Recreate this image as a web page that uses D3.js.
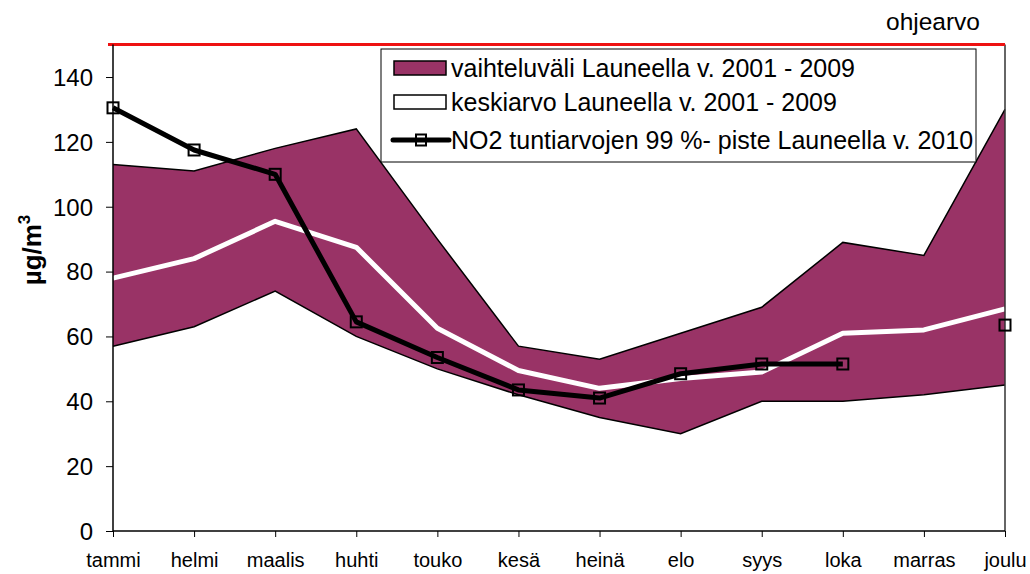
<!DOCTYPE html>
<html><head><meta charset="utf-8">
<script src="https://cdn.jsdelivr.net/npm/d3@7/dist/d3.min.js"></script>
<style>body{margin:0;background:#fff}svg{display:block;font-family:"Liberation Sans",Arial,sans-serif}</style>
</head><body><svg id="c" width="1030" height="574"></svg>
<script>
const months = ["tammi","helmi","maalis","huhti","touko","kesä","heinä","elo","syys","loka","marras","joulu"];
const rangeMax = [113,111,118,124,90,57,53,61,69,89,85,130];
const rangeMin = [57,63,74,60,50,42,35,30,40,40,42,45];
const meanVals = [78,84,95.5,87.5,62.5,49.5,44,47,49,61,62,68.5];
const no2010 = [130.5,117.5,110,64.5,53.5,43.5,41,48.5,51.5,51.5,null,63.5];
const yTicks = [0,20,40,60,80,100,120,140];
const guideValue = 150;
const legendLabels = ["vaihteluväli Launeella v. 2001 - 2009","keskiarvo Launeella v. 2001 - 2009","NO2 tuntiarvojen 99 %- piste Launeella v. 2010"];

const svg = d3.select("#c");
const L=113, R=1005, T=44.6, B=531;
const x = d3.scalePoint().domain(months).range([L,R]);
const y = d3.scaleLinear().domain([0,150]).range([B,T]);
const purple = "#993366";

// band
const area = d3.area().x((d,i)=>x(months[i])).y0((d,i)=>y(rangeMin[i])).y1((d,i)=>y(rangeMax[i]));
svg.append("path").datum(months).attr("d",area).attr("fill",purple);
const lineF = d3.line().x(d=>x(d.m)).y(d=>y(d.v)).defined(d=>d.v!=null);
const seq = arr => arr.map((v,i)=>({m:months[i],v}));
svg.append("path").attr("d",lineF(seq(rangeMax))).attr("fill","none").attr("stroke","#000").attr("stroke-width",1.5);
svg.append("path").attr("d",lineF(seq(rangeMin))).attr("fill","none").attr("stroke","#000").attr("stroke-width",1.5);
svg.append("path").attr("d",lineF(seq(meanVals))).attr("fill","none").attr("stroke","#fff").attr("stroke-width",5).attr("stroke-linejoin","round");

// right border
svg.append("line").attr("x1",R).attr("x2",R).attr("y1",T).attr("y2",B).attr("stroke","#333").attr("stroke-width",1.5);

// guide line
svg.append("line").attr("x1",L-5).attr("x2",R).attr("y1",y(guideValue)).attr("y2",y(guideValue)).attr("stroke","#ee1111").attr("stroke-width",3);
svg.append("text").attr("x",980).attr("y",30).attr("text-anchor","end").attr("font-size",24.5).text("ohjearvo");

// NO2 line
svg.append("path").attr("d",lineF(seq(no2010))).attr("fill","none").attr("stroke","#000").attr("stroke-width",5).attr("stroke-linejoin","round");
const ms=11;
svg.selectAll("rect.mk").data(seq(no2010).filter(d=>d.v!=null)).enter().append("rect")
  .attr("x",d=>x(d.m)-ms/2).attr("y",d=>y(d.v)-ms/2).attr("width",ms).attr("height",ms)
  .attr("fill","none").attr("stroke","#000").attr("stroke-width",2);

// axes
const yAxis = d3.axisLeft(y).tickValues(yTicks).tickSize(7).tickPadding(13);
const gy = svg.append("g").attr("transform",`translate(${L},0)`).call(yAxis);
gy.select(".domain").attr("stroke","#000").attr("stroke-width",1.5).attr("d",`M0,${T}V${B}`);
gy.selectAll("text").attr("font-size",24).attr("font-family","Liberation Sans, Arial").attr("fill","#000").attr("dy","0.35em");
gy.selectAll(".tick line").attr("stroke","#000");

const xAxis = d3.axisBottom(x).tickSize(6).tickPadding(16);
const gx = svg.append("g").attr("transform",`translate(0,${B})`).call(xAxis);
gx.select(".domain").attr("d",`M${L},0H${R}`).attr("stroke","#000").attr("stroke-width",1.5);
gx.selectAll("text").attr("font-size",20).attr("font-family","Liberation Sans, Arial").attr("fill","#000");
gx.selectAll(".tick line").attr("stroke","#000");

// y title
const yt = svg.append("text").attr("transform","translate(41,250) rotate(-90)").attr("text-anchor","middle").attr("font-size",26).attr("font-weight","bold");
yt.append("tspan").text("µg/m");
yt.append("tspan").attr("font-size",17).attr("dy",-11).text("3");

// legend
const lg = svg.append("g");
lg.append("rect").attr("x",381).attr("y",49).attr("width",595).attr("height",113).attr("fill","#fff").attr("stroke","#000").attr("stroke-width",1);
const rows=[68,102,140];
lg.append("rect").attr("x",394).attr("y",rows[0]-7).attr("width",52).attr("height",14).attr("fill",purple).attr("stroke","#000").attr("stroke-width",1.5);
lg.append("rect").attr("x",394).attr("y",rows[1]-7).attr("width",52).attr("height",14).attr("fill","#fff").attr("stroke","#000").attr("stroke-width",1.5);
lg.append("line").attr("x1",393).attr("x2",449).attr("y1",rows[2]).attr("y2",rows[2]).attr("stroke","#000").attr("stroke-width",5).attr("stroke-linecap","round");
lg.append("rect").attr("x",421-5).attr("y",rows[2]-5.5).attr("width",10).attr("height",11).attr("fill","none").attr("stroke","#000").attr("stroke-width",2);
legendLabels.forEach((t,i)=>{
  lg.append("text").attr("x",451).attr("y",rows[i]).attr("dy","0.35em").attr("font-size",25).text(t);
});
</script></body></html>
